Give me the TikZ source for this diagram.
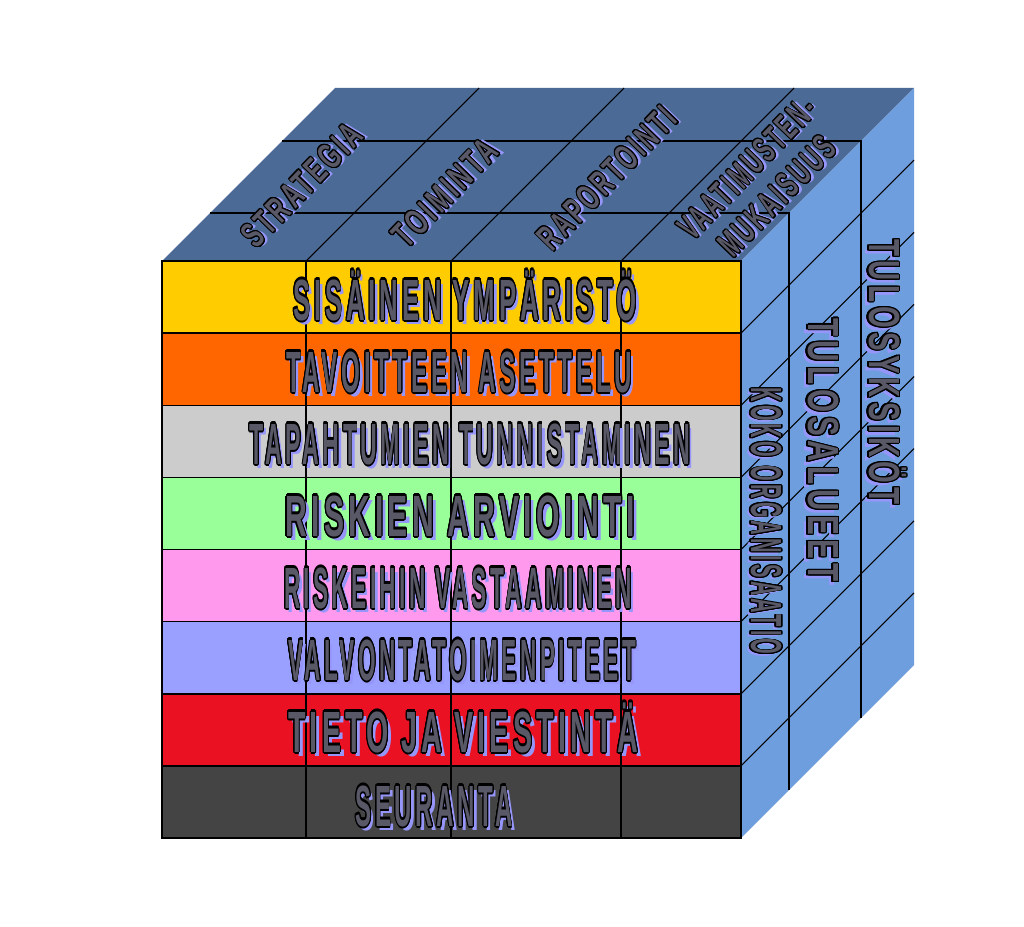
\documentclass[tikz,border=0pt]{standalone}
\usepackage{fontspec}
\usepackage{xcolor}
\usepackage{graphicx}
\usepackage[copies]{contour}
\usepackage{tikz}
\usetikzlibrary{calc}
\newfontfamily\wafont[LetterSpace=15]{Liberation Sans}
\contourlength{0.35pt}
\definecolor{topc}{RGB}{76,106,150}
\definecolor{sidec}{RGB}{110,158,222}
\definecolor{rowa}{RGB}{255,204,0}
\definecolor{rowb}{RGB}{255,102,0}
\definecolor{rowc}{RGB}{204,204,204}
\definecolor{rowd}{RGB}{153,255,153}
\definecolor{rowe}{RGB}{255,153,238}
\definecolor{rowf}{RGB}{153,160,255}
\definecolor{rowg}{RGB}{234,17,34}
\definecolor{rowh}{RGB}{68,68,68}
\definecolor{wafill}{RGB}{88,88,102}
\definecolor{washadow}{RGB}{150,150,250}
\tikzstyle{grid}= [black, line width=0.6pt]
\tikzstyle{band}= [draw=black, line width=0.8pt]
\newcommand\wordart[3]{\resizebox{#1}{#2}{\wafont\bfseries\vphantom{A}\smash{\rlap{\kern1.4pt\raisebox{-0.7pt}{\textcolor{washadow}{#3}}}\textcolor{wafill}{\contour{black}{#3}}}}}

\begin{document}
\begin{tikzpicture}[
		x=0.02cm, y=-0.02cm,
    lbl/.style={
    inner sep=0pt, outer sep=0pt,
    }
	]

  \fill[white] (0,0) rectangle (1024,926);
  \useasboundingbox (0,0) rectangle (1024,926);

  \coordinate (fa) at (162,261);
  \coordinate (fb) at (741,261);
  \coordinate (fc) at (741,838);
  \coordinate (ba) at (335,88);
  \coordinate (bb) at (914,88);
  \coordinate (bc) at (914,665);

  \fill[topc] (fa) -- (ba) -- (bb) -- (fb) -- cycle;
  \fill[sidec] (fb) -- (bb) -- (bc) -- (fc) -- cycle;

  \draw[band,fill=rowa] (162,261) rectangle (741,333.1);
  \draw[band,fill=rowb] (162,333.1) rectangle (741,405.3);
  \draw[band,fill=rowc] (162,405.3) rectangle (741,477.4);
  \draw[band,fill=rowd] (162,477.4) rectangle (741,549.5);
  \draw[band,fill=rowe] (162,549.5) rectangle (741,621.6);
  \draw[band,fill=rowf] (162,621.6) rectangle (741,693.8);
  \draw[band,fill=rowg] (162,693.8) rectangle (741,765.9);
  \draw[band,fill=rowh] (162,765.9) rectangle (741,838);

  \draw[grid] (306,261) -- (306,838);
  \draw[grid] (451,261) -- (451,838);
  \draw[grid] (621,261) -- (621,838);

  \draw[grid] (306,261) -- (479,88);
  \draw[grid] (451,261) -- (624,88);
  \draw[grid] (621,261) -- (794,88);
  \draw[grid] (210,213) -- (789,213) -- (789,790);
  \draw[grid] (282,141) -- (861,141) -- (861,718);

  \draw[grid] (741,333.1) -- (914,160.1);
  \draw[grid] (741,405.3) -- (914,232.3);
  \draw[grid] (741,477.4) -- (914,304.4);
  \draw[grid] (741,549.5) -- (914,376.5);
  \draw[grid] (741,621.6) -- (914,448.6);
  \draw[grid] (741,693.8) -- (914,520.8);
  \draw[grid] (741,765.9) -- (914,592.9);

  \node[lbl] (t1) at (465,300) {\wordart{6.88cm}{0.8cm}{SISÄINEN YMPÄRISTÖ}};
  \node[lbl] (t2) at (459,372) {\wordart{6.92cm}{0.8cm}{TAVOITTEEN ASETTELU}};
  \node[lbl] (t3) at (470,444) {\wordart{8.82cm}{0.8cm}{TAPAHTUMIEN TUNNISTAMINEN}};
  \node[lbl] (t4) at (460,516) {\wordart{7.0cm}{0.8cm}{RISKIEN ARVIOINTI}};
  \node[lbl] (t5) at (458,588) {\wordart{6.96cm}{0.8cm}{RISKEIHIN VASTAAMINEN}};
  \node[lbl] (t6) at (462,660) {\wordart{6.96cm}{0.8cm}{VALVONTATOIMENPITEET}};
  \node[lbl] (t7) at (463,732) {\wordart{7.0cm}{0.8cm}{TIETO JA VIESTINTÄ}};
  \node[lbl] (t8) at (434,806) {\wordart{3.14cm}{0.8cm}{SEURANTA}};

  \node[lbl,rotate=46] (s1) at (302,185) {\wordart{3.12cm}{0.5cm}{STRATEGIA}};
  \node[lbl,rotate=46] (s2) at (445,193) {\wordart{2.68cm}{0.5cm}{TOIMINTA}};
  \node[lbl,rotate=46] (s3) at (607,178) {\wordart{3.64cm}{0.5cm}{RAPORTOINTI}};
  \node[lbl,rotate=46] (s4) at (747,168) {\wordart{3.62cm}{0.5cm}{VAATIMUSTEN-}};
  \node[lbl,rotate=46] (s5) at (777,196) {\wordart{3.02cm}{0.5cm}{MUKAISUUS}};

  \node[lbl,rotate=-90] (r1) at (766,521) {\wordart{5.34cm}{0.6cm}{KOKO ORGANISAATIO}};
  \node[lbl,rotate=-90] (r2) at (823,450) {\wordart{5.28cm}{0.6cm}{TULOSALUEET}};
  \node[lbl,rotate=-90] (r3) at (884,372) {\wordart{5.3cm}{0.6cm}{TULOSYKSIKÖT}};

\end{tikzpicture}
\end{document}
